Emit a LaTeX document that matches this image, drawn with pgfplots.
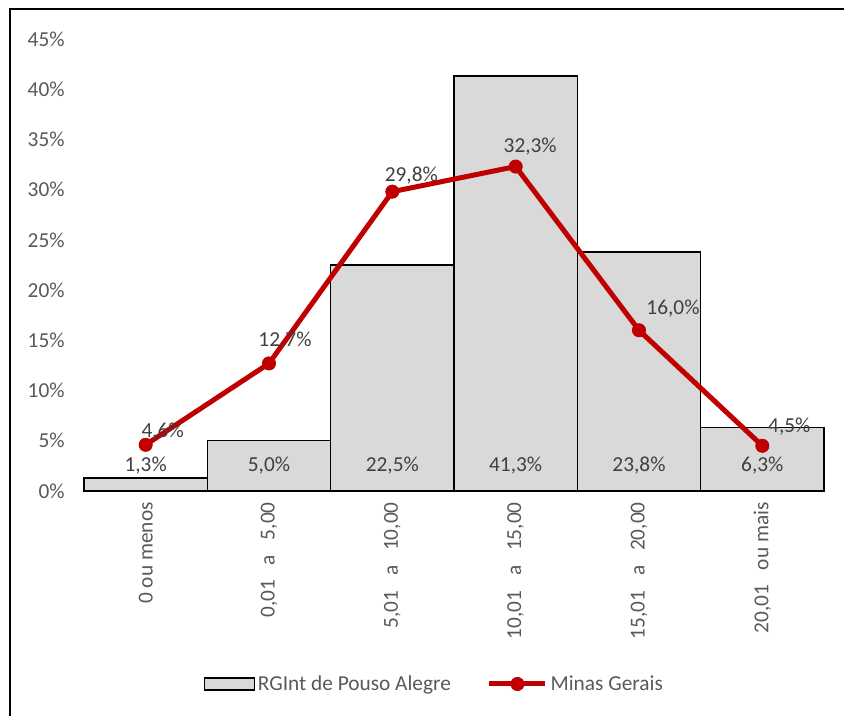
\documentclass[border=0pt]{standalone}
\usepackage{fontspec}
\setmainfont{Carlito}
\usepackage{pgfplots}
\pgfplotsset{compat=1.18}
\usepackage{pgfplotstable}

\definecolor{barfill}{HTML}{D9D9D9}
\definecolor{mgred}{HTML}{C00000}
\definecolor{txt}{HTML}{595959}
\definecolor{lbl}{HTML}{404040}

% share of each income class, RGInt de Pouso Alegre
\pgfplotstableread{
x  y
0  1.3
1  5.0
2  22.5
3  41.3
4  23.8
5  6.3
}\pouso

% share of each income class, Minas Gerais (dx, dy: label offsets in pt)
\pgfplotstableread{
x  y     dx     dy
0  4.6   12.75  9.75
1  12.7  12.0   17.25
2  29.8  14.25  12.0
3  32.3  10.9   15.0
4  16.0  25.5   16.5
5  4.5   20.25  14.25
}\minas

\newcommand{\lblfont}{\fontsize{16}{19}\selectfont}

\begin{document}
\begin{tikzpicture}
\useasboundingbox (0pt,0pt) rectangle (633pt,537pt);
\begin{axis}[
  at={(63pt,168.75pt)}, anchor=south west,
  scale only axis, width=555pt, height=339pt,
  xmin=-0.5, xmax=5.5, ymin=0, ymax=45,
  axis lines*=left, axis line style={-},
  y axis line style={draw=none},
  x axis line style={draw=gray!55, line width=0.8pt},
  ytick={0,5,...,45},
  yticklabel={\pgfmathprintnumber{\tick}\%},
  xtick={0,...,5},
  xticklabels={
    0 ou menos,
    {0,01\hspace{11pt}a\hspace{11pt}5,00},
    {5,01\hspace{11pt}a\hspace{11pt}10,00},
    {10,01\hspace{11pt}a\hspace{11pt}15,00},
    {15,01\hspace{11pt}a\hspace{11pt}20,00},
    {20,01\hspace{11pt}ou mais}},
  major tick length=0pt,
  /pgf/number format/assume math mode=true,
  every tick label/.append style={font=\lblfont, text=txt},
  yticklabel shift=11pt,
  xticklabel shift=5pt,
  xticklabel style={rotate=90, anchor=east},
  legend style={at={(0.474,-0.427)}, anchor=center, draw=none, fill=none,
    legend columns=2, font=\lblfont, text=txt,
    /tikz/every even column/.append style={column sep=25pt}},
  legend cell align=left,
  clip=false,
]
% bars
\addplot[ybar, bar width=1, fill=barfill, draw=black, line width=1pt,
  legend image code/.code={\draw[fill=barfill, draw=black, line width=1pt] (0pt,-4.5pt) rectangle (37.5pt,4.5pt);}]
  table[x=x, y=y] {\pouso};
\addlegendentry{RGInt de Pouso Alegre}

% bar value labels, set at the base of each bar
\addplot[draw=none, forget plot, nodes near coords, point meta=explicit,
  nodes near coords={\pgfmathprintnumber[fixed,fixed zerofill,precision=1,use comma]{\pgfplotspointmeta}\%},
  every node near coord/.append style={anchor=center, font=\lblfont, text=lbl}]
  table[x=x, y expr=2.5, meta=y] {\pouso};

% Minas Gerais line
\addplot[mgred, line width=3.75pt, mark=*, mark size=5pt,
  mark options={solid, fill=mgred, line width=0.5pt},
  nodes near coords, point meta=explicit,
  nodes near coords={\pgfmathprintnumber[fixed,fixed zerofill,precision=1,use comma]{\pgfplotspointmeta}\%},
  visualization depends on={\thisrow{dx}\as\dx},
  visualization depends on={\thisrow{dy}\as\dy},
  every node near coord/.append style={anchor=center, xshift=\dx pt, yshift=\dy pt, font=\lblfont, text=lbl},
  legend image code/.code={\draw[mgred, line width=3.75pt, mark=*, mark size=5pt, mark options={solid, fill=mgred, line width=0.5pt}, mark repeat=2, mark phase=2] plot coordinates {(0pt,0pt) (21pt,0pt) (42pt,0pt)};}]
  table[x=x, y=y, meta=y] {\minas};
\addlegendentry{Minas Gerais}
\end{axis}
\draw[line width=1pt, black] (7.5pt,0pt) -- (7.5pt,530.25pt) -- (640pt,530.25pt);
\end{tikzpicture}
\end{document}
